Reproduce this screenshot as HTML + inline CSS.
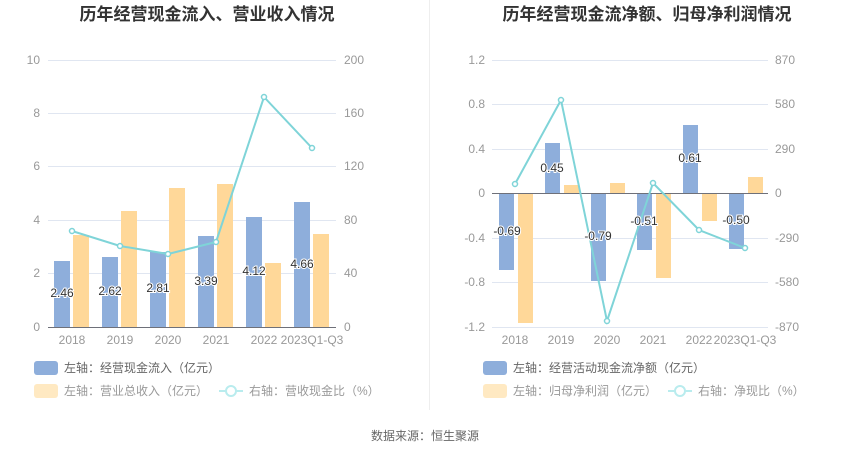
<!DOCTYPE html>
<html><head><meta charset="utf-8"><style>
body{margin:0;background:#fff;}
svg{display:block;font-family:"Liberation Sans","Noto Sans CJK SC",sans-serif;}
</style></head><body>
<svg width="850" height="458" viewBox="0 0 850 458" xmlns="http://www.w3.org/2000/svg">
<rect width="850" height="458" fill="#fff"/>
<line x1="429.5" y1="0" x2="429.5" y2="410" stroke="#eee"/>
<text x="207" y="20" font-size="17" font-weight="bold" fill="#333" text-anchor="middle">历年经营现金流入、营业收入情况</text>
<text x="647" y="20" font-size="17" font-weight="bold" fill="#333" text-anchor="middle">历年经营现金流净额、归母净利润情况</text>

<!-- LEFT CHART -->
<g stroke="#e0e6f1" stroke-width="1">
<line x1="48" y1="60.5" x2="336" y2="60.5"/><line x1="48" y1="113.5" x2="336" y2="113.5"/>
<line x1="48" y1="166.5" x2="336" y2="166.5"/><line x1="48" y1="220.5" x2="336" y2="220.5"/>
<line x1="48" y1="273.5" x2="336" y2="273.5"/>
</g>
<g font-size="12" fill="#999">
<g text-anchor="end"><text x="40" y="64">10</text><text x="40" y="117">8</text><text x="40" y="170">6</text><text x="40" y="224">4</text><text x="40" y="277">2</text><text x="40" y="331">0</text></g>
<g text-anchor="start"><text x="344" y="64">200</text><text x="344" y="117">160</text><text x="344" y="170">120</text><text x="344" y="224">80</text><text x="344" y="277">40</text><text x="344" y="331">0</text></g>
<g text-anchor="middle"><text x="72" y="344">2018</text><text x="120" y="344">2019</text><text x="168" y="344">2020</text><text x="216" y="344">2021</text><text x="264" y="344">2022</text><text x="312" y="344">2023Q1-Q3</text></g>
</g>
<g fill="#8eaedb">
<rect x="54" y="261" width="16" height="66"/><rect x="102" y="257" width="16" height="70"/>
<rect x="150" y="252" width="16" height="75"/><rect x="198" y="236" width="16" height="91"/>
<rect x="246" y="217" width="16" height="110"/><rect x="294" y="202" width="16" height="125"/>
</g>
<g fill="#ffd899">
<rect x="73" y="235" width="16" height="92"/><rect x="121" y="211" width="16" height="116"/>
<rect x="169" y="188" width="16" height="139"/><rect x="217" y="184" width="16" height="143"/>
<rect x="265" y="263" width="16" height="64"/><rect x="313" y="234" width="16" height="93"/>
</g>
<line x1="48" y1="327.5" x2="336" y2="327.5" stroke="#6e7079"/>
<polyline points="72,231 120,246 168,254 216,242 264,97 312,148" fill="none" stroke="#7fd4d8" stroke-width="2"/>
<g fill="#fff" stroke="#7fd4d8" stroke-width="1.5">
<circle cx="72" cy="231" r="2.5"/><circle cx="120" cy="246" r="2.5"/><circle cx="168" cy="254" r="2.5"/><circle cx="216" cy="242" r="2.5"/><circle cx="264" cy="97" r="2.5"/><circle cx="312" cy="148" r="2.5"/>
</g>
<g font-size="12" fill="#333" text-anchor="middle" stroke="#fff" stroke-width="2" paint-order="stroke">
<text x="62" y="297">2.46</text><text x="110" y="295">2.62</text><text x="158" y="292">2.81</text><text x="206" y="285">3.39</text><text x="254" y="275">4.12</text><text x="302" y="268">4.66</text>
</g>
<rect x="34" y="361" width="24" height="14" rx="3" fill="#8eaedb"/>
<text x="64" y="372" font-size="12" fill="#666">左轴：经营现金流入（亿元）</text>
<rect x="34" y="384" width="24" height="14" rx="3" fill="#ffe9c2"/>
<text x="64" y="395" font-size="12" fill="#999">左轴：营业总收入（亿元）</text>
<line x1="219" y1="391" x2="243" y2="391" stroke="#b9ecee" stroke-width="2"/>
<circle cx="231" cy="391" r="5" fill="#fff" stroke="#b9ecee" stroke-width="2"/>
<text x="249" y="395" font-size="12" fill="#999">右轴：营收现金比（%）</text>

<!-- RIGHT CHART -->
<g stroke="#e0e6f1" stroke-width="1">
<line x1="492" y1="60.5" x2="768" y2="60.5"/><line x1="492" y1="104.5" x2="768" y2="104.5"/>
<line x1="492" y1="149.5" x2="768" y2="149.5"/><line x1="492" y1="238.5" x2="768" y2="238.5"/>
<line x1="492" y1="282.5" x2="768" y2="282.5"/><line x1="492" y1="327.5" x2="768" y2="327.5"/>
</g>
<g font-size="12" fill="#999">
<g text-anchor="end"><text x="485" y="64">1.2</text><text x="485" y="108">0.8</text><text x="485" y="153">0.4</text><text x="485" y="197">0</text><text x="485" y="242">-0.4</text><text x="485" y="286">-0.8</text><text x="485" y="331">-1.2</text></g>
<g text-anchor="start"><text x="775" y="64">870</text><text x="775" y="108">580</text><text x="775" y="153">290</text><text x="775" y="197">0</text><text x="775" y="242">-290</text><text x="775" y="286">-580</text><text x="775" y="331">-870</text></g>
<g text-anchor="middle"><text x="515" y="344">2018</text><text x="561" y="344">2019</text><text x="607" y="344">2020</text><text x="653" y="344">2021</text><text x="699" y="344">2022</text><text x="745" y="344">2023Q1-Q3</text></g>
</g>
<g fill="#8eaedb">
<rect x="499" y="193" width="15" height="77"/><rect x="545" y="143" width="15" height="50"/>
<rect x="591" y="193" width="15" height="88"/><rect x="637" y="193" width="15" height="57"/>
<rect x="683" y="125" width="15" height="68"/><rect x="729" y="193" width="15" height="56"/>
</g>
<g fill="#ffd899">
<rect x="518" y="193" width="15" height="130"/><rect x="564" y="185" width="15" height="8"/>
<rect x="610" y="183" width="15" height="10"/><rect x="656" y="193" width="15" height="85"/>
<rect x="702" y="193" width="15" height="28"/><rect x="748" y="177" width="15" height="16"/>
</g>
<line x1="492" y1="193.5" x2="768" y2="193.5" stroke="#6e7079"/>
<polyline points="515,184 561,100 607,321 653,183 699,230 745,248" fill="none" stroke="#7fd4d8" stroke-width="2"/>
<g fill="#fff" stroke="#7fd4d8" stroke-width="1.5">
<circle cx="515" cy="184" r="2.5"/><circle cx="561" cy="100" r="2.5"/><circle cx="607" cy="321" r="2.5"/><circle cx="653" cy="183" r="2.5"/><circle cx="699" cy="230" r="2.5"/><circle cx="745" cy="248" r="2.5"/>
</g>
<g font-size="12" fill="#333" text-anchor="middle" stroke="#fff" stroke-width="2" paint-order="stroke">
<text x="507" y="235">-0.69</text><text x="552" y="172">0.45</text><text x="598" y="240">-0.79</text><text x="644" y="225">-0.51</text><text x="690" y="162">0.61</text><text x="736" y="224">-0.50</text>
</g>
<rect x="483" y="361" width="24" height="14" rx="3" fill="#8eaedb"/>
<text x="513" y="372" font-size="12" fill="#666">左轴：经营活动现金流净额（亿元）</text>
<rect x="483" y="384" width="24" height="14" rx="3" fill="#ffe9c2"/>
<text x="513" y="395" font-size="12" fill="#999">左轴：归母净利润（亿元）</text>
<line x1="668" y1="391" x2="692" y2="391" stroke="#b9ecee" stroke-width="2"/>
<circle cx="680" cy="391" r="5" fill="#fff" stroke="#b9ecee" stroke-width="2"/>
<text x="698" y="395" font-size="12" fill="#999">右轴：净现比（%）</text>

<text x="425" y="440" font-size="12" fill="#666" text-anchor="middle">数据来源：恒生聚源</text>
</svg>
</body></html>
